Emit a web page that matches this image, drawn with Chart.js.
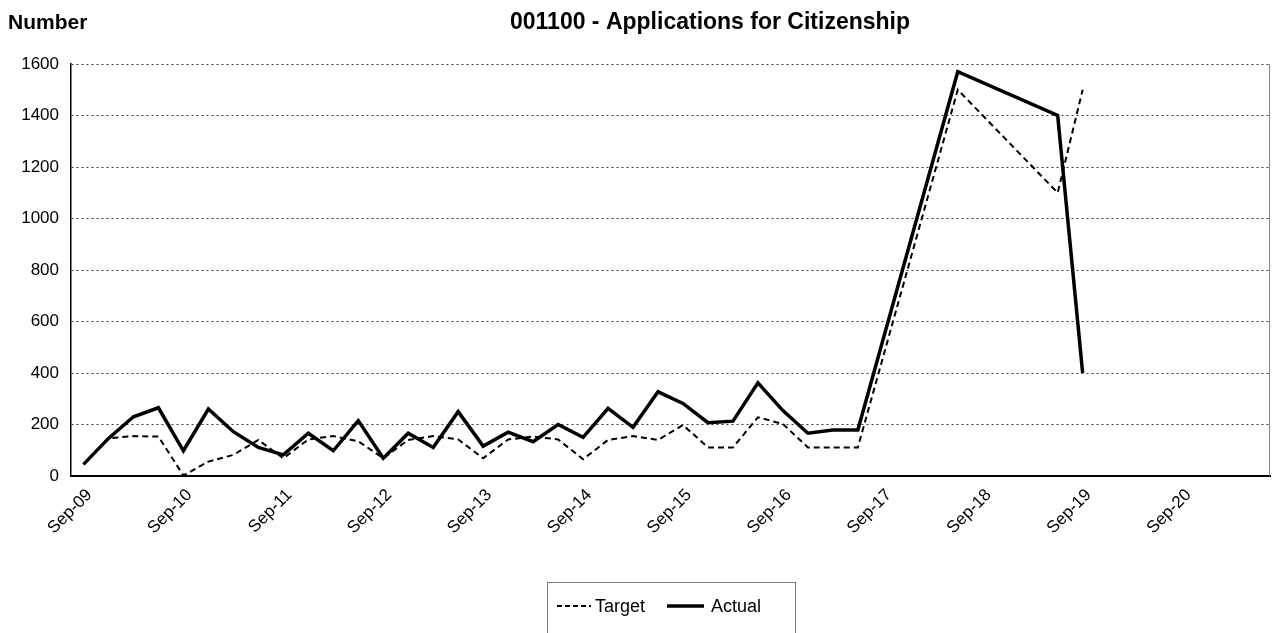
<!DOCTYPE html>
<html>
<head>
<meta charset="utf-8">
<script src="https://cdn.jsdelivr.net/npm/chart.js@4/dist/chart.umd.min.js"></script>
<style>
  html, body { margin: 0; padding: 0; background: #fff; }
  #wrap { width: 1275px; height: 633px; position: relative; }
</style>
</head>
<body>
<div id="wrap"><canvas id="c"></canvas></div>
<script>
// ---- Data ----
// Quarter categories: Sep-09 ... Jun-21 (48 quarters)
const categories = [
  'Sep-09','Dec-09','Mar-10','Jun-10','Sep-10','Dec-10','Mar-11','Jun-11',
  'Sep-11','Dec-11','Mar-12','Jun-12','Sep-12','Dec-12','Mar-13','Jun-13',
  'Sep-13','Dec-13','Mar-14','Jun-14','Sep-14','Dec-14','Mar-15','Jun-15',
  'Sep-15','Dec-15','Mar-16','Jun-16','Sep-16','Dec-16','Mar-17','Jun-17',
  'Sep-17','Dec-17','Mar-18','Jun-18','Sep-18','Dec-18','Mar-19','Jun-19',
  'Sep-19','Dec-19','Mar-20','Jun-20','Sep-20','Dec-20','Mar-21','Jun-21'
];
const tickLabels = ['Sep-09','Sep-10','Sep-11','Sep-12','Sep-13','Sep-14','Sep-15','Sep-16','Sep-17','Sep-18','Sep-19','Sep-20'];

const targetValues = [
  45, 146, 155, 153, 2, 56, 82, 140,
  69, 142, 155, 135, 69, 140, 155, 142,
  69, 142, 153, 142, 65, 140, 155, 140,
  198, 111, 111, 228, 202, 111, 111, 111,
  null, null, null, 1500, null, null, null, 1100,
  1500, null, null, null, null, null, null, null
];
const actualValues = [
  45, 146, 230, 265, 98, 260, 172, 111,
  82, 166, 98, 215, 69, 166, 111, 250,
  116, 170, 133, 200, 150, 263, 189, 327,
  282, 207, 213, 362, 254, 166, 179, 179,
  null, null, null, 1570, null, null, null, 1400,
  400, null, null, null, null, null, null, null
];
const yTicks = { min: 0, max: 1600, step: 200 };
const axisTitle = 'Number';
const chartTitle = '001100 - Applications for Citizenship';

const FONT = "'Liberation Sans', Arial, sans-serif";

// ---- Plugins ----
const decor = {
  id: 'decor',
  afterDraw(chart) {
    const ctx = chart.ctx;
    const a = chart.chartArea;
    ctx.save();
    // right border
    ctx.strokeStyle = '#8a8a8a';
    ctx.lineWidth = 1;
    ctx.beginPath();
    ctx.moveTo(Math.round(a.right) - 0.5, a.top);
    ctx.lineTo(Math.round(a.right) - 0.5, a.bottom);
    ctx.stroke();
    // titles
    ctx.fillStyle = '#000';
    ctx.textBaseline = 'alphabetic';
    ctx.font = 'bold 21px ' + FONT;
    ctx.textAlign = 'left';
    ctx.fillText(axisTitle, 8, 29);
    ctx.font = 'bold 23px ' + FONT;
    ctx.textAlign = 'center';
    ctx.fillText(chartTitle, 710, 29);

    // legend
    const bx = 547, by = 582, bw = 248, bh = 70;
    ctx.strokeStyle = '#7a7a7a';
    ctx.lineWidth = 1;
    ctx.strokeRect(bx + 0.5, by + 0.5, bw, bh);
    const ly = 606;
    const items = chart.data.datasets;
    const pos = [{x0: 557, x1: 591, tx: 595}, {x0: 667, x1: 704, tx: 711}];
    ctx.font = '18px ' + FONT;
    ctx.textAlign = 'left';
    ctx.textBaseline = 'middle';
    items.forEach((ds, i) => {
      const p = pos[i];
      ctx.save();
      ctx.strokeStyle = ds.borderColor;
      ctx.lineWidth = ds.borderWidth;
      ctx.setLineDash(i === 0 ? [5, 3] : []);
      ctx.beginPath();
      ctx.moveTo(p.x0, ly);
      ctx.lineTo(p.x1, ly);
      ctx.stroke();
      ctx.restore();
      ctx.fillStyle = '#000';
      ctx.fillText(ds.label, p.tx, ly + 1);
    });
    ctx.restore();
  }
};

new Chart(document.getElementById('c'), {
  type: 'line',
  data: {
    labels: categories,
    datasets: [
      {
        label: 'Target',
        data: targetValues,
        borderColor: '#000',
        backgroundColor: '#000',
        borderWidth: 2,
        borderDash: [6, 4],
        pointRadius: 0,
        tension: 0,
        spanGaps: true,
        fill: false
      },
      {
        label: 'Actual',
        data: actualValues,
        borderColor: '#000',
        backgroundColor: '#000',
        borderWidth: 3.5,
        pointRadius: 0,
        tension: 0,
        spanGaps: true,
        fill: false
      }
    ]
  },
  options: {
    responsive: true,
    maintainAspectRatio: false,
    animation: false,
    layout: { padding: { left: 0, right: 5, top: 64, bottom: 0 } },
    plugins: {
      legend: { display: false },
      title: { display: false },
      tooltip: { enabled: false }
    },
    scales: {
      x: {
        type: 'category',
        offset: true,
        grid: { display: false, drawTicks: false },
        border: { display: true, color: '#000', width: 2 },
        ticks: {
          autoSkip: false,
          maxRotation: 45,
          minRotation: 45,
          padding: 9,
          labelOffset: 6,
          color: '#000',
          font: { family: FONT, size: 17 },
          callback: function (val, idx) {
            const lab = categories[idx];
            return tickLabels.includes(lab) ? lab : '';
          }
        },
        afterFit: s => { s.height = 157; s.paddingRight = 0; s.paddingLeft = 0; }
      },
      y: {
        min: yTicks.min,
        max: yTicks.max,
        grid: { color: '#3a3a3a', lineWidth: 1, drawTicks: false },
        border: { display: true, color: '#000', width: 1.5, dash: [2, 3] },
        ticks: {
          stepSize: yTicks.step,
          padding: 12,
          color: '#000',
          font: { family: FONT, size: 17 },
          callback: v => String(v)
        },
        afterFit: s => { s.width = 71; s.paddingTop = 0; s.paddingBottom = 0; }
      }
    }
  },
  plugins: [decor]
});
</script>
</body>
</html>
